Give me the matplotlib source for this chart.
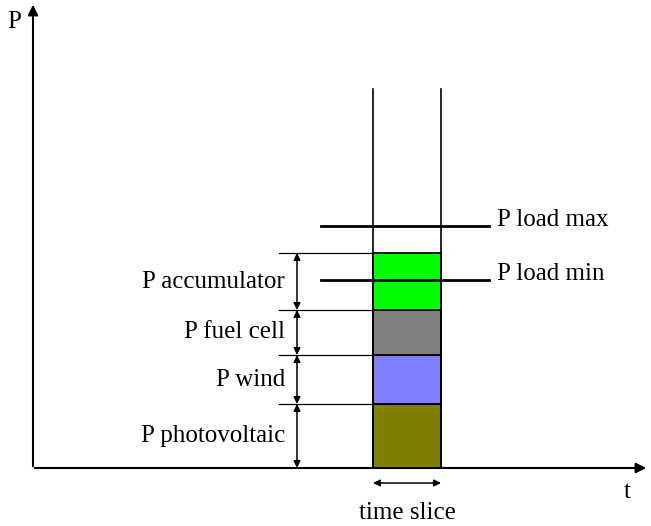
import matplotlib
matplotlib.use("Agg")
import matplotlib.pyplot as plt

# power sources stacked inside the time slice (bottom to top), arbitrary units
sources = ["P photovoltaic", "P wind", "P fuel cell", "P accumulator"]
powers = [64, 49, 45, 57]
colors = ["#808000", "#8080ff", "#808080", "#00ff00"]

# load limits
load_names = ["P load min", "P load max"]
load_values = [188, 242]

# time slice
t_start = 340
t_end = 408
slice_top = 379

plt.rcParams['font.family'] = ['Liberation Serif', 'DejaVu Serif']
fs = 18

fig = plt.figure(figsize=(6.51, 5.26), dpi=100)
ax = fig.add_axes([0, 0, 1, 1])
ax.set_xlim(-33, 618)
ax.set_ylim(-58, 468)
ax.axis('off')

# axes with arrows
ax.annotate("", xy=(616, 0), xytext=(-1, 0),
            arrowprops=dict(arrowstyle='-|>', color='black', lw=1.5, mutation_scale=15))
ax.annotate("", xy=(0, 466), xytext=(0, -1),
            arrowprops=dict(arrowstyle='-|>', color='black', lw=1.5, mutation_scale=15))
ax.text(-19, 446, "P", fontsize=fs, ha='center', va='center')
ax.text(594, -24, "t", fontsize=fs, ha='center', va='center')

# stacked bars in the time slice
bottom = 0
for name, p, c in zip(sources, powers, colors):
    ax.bar(t_start, p, width=t_end - t_start, bottom=bottom, align='edge',
           color=c, edgecolor='black', linewidth=1.3, zorder=2)
    # thin reference line at top of each segment and double arrow
    ax.plot([246, t_start], [bottom + p, bottom + p], color='black', lw=0.9, zorder=1)
    ax.annotate("", xy=(264, bottom + p), xytext=(264, bottom),
                arrowprops=dict(arrowstyle='<|-|>', color='black', lw=1.1,
                                mutation_scale=10, shrinkA=0, shrinkB=0))
    ax.text(252, bottom + p / 2, name, fontsize=fs, ha='right', va='center')
    bottom += p

# vertical lines bounding the slice
ax.plot([t_start, t_start], [0, slice_top], color='black', lw=1.2, zorder=3)
ax.plot([t_end, t_end], [0, slice_top], color='black', lw=1.2, zorder=3)

# load limits
for name, v in zip(load_names, load_values):
    ax.plot([288, 456], [v, v], color='black', lw=2.0, zorder=4)
    ax.text(464, v + 6, name, fontsize=fs, ha='left', va='center')

# time slice arrow
ax.annotate("", xy=(t_end, -15), xytext=(t_start, -15),
            arrowprops=dict(arrowstyle='<|-|>', color='black', lw=1.1,
                            mutation_scale=10, shrinkA=0, shrinkB=0))
ax.text((t_start + t_end) / 2, -45, "time slice", fontsize=fs, ha='center', va='center')

fig.savefig("out.png", dpi=100)
